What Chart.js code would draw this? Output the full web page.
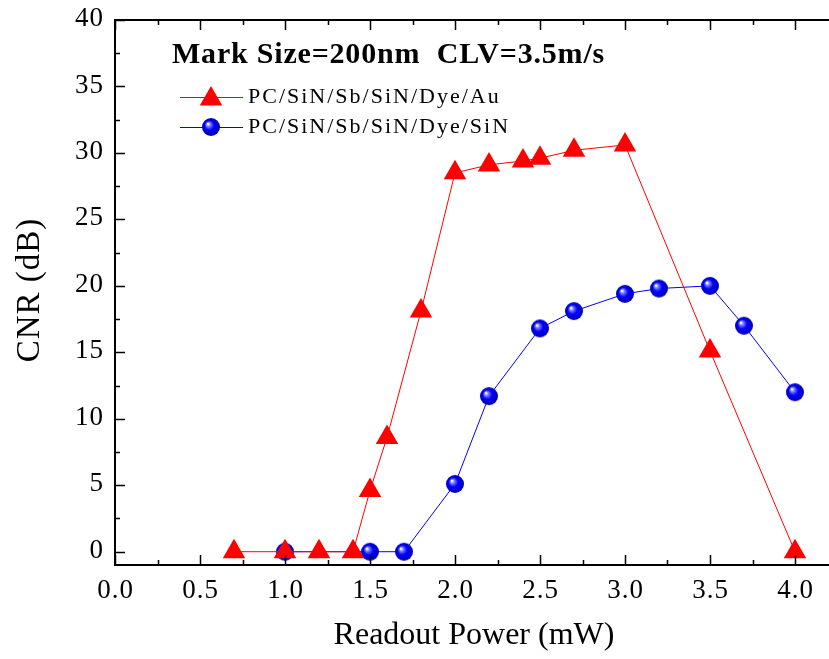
<!DOCTYPE html>
<html>
<head>
<meta charset="utf-8">
<script src="https://cdn.jsdelivr.net/npm/chart.js@4/dist/chart.umd.min.js"></script>
<style>
  html, body { margin: 0; padding: 0; background: #fff; }
  #wrap { width: 829px; height: 659px; }
</style>
</head>
<body>
<div id="wrap"><canvas id="cnr-chart" width="829" height="659"></canvas></div>
<script>
// readout power (mW) and CNR (dB)
var auPower = [0.7, 1.0, 1.2, 1.4, 1.5, 1.6, 1.8, 2.0, 2.2, 2.4, 2.5, 2.7, 3.0, 3.5, 4.0]
var auCnr   = [0, 0, 0, 0, 4.6, 8.6, 18.1, 28.5, 29.1, 29.4, 29.6, 30.2, 30.6, 15.1, 0]
var sinPower = [1.0, 1.5, 1.7, 2.0, 2.2, 2.5, 2.7, 3.0, 3.2, 3.5, 3.7, 4.0]
var sinCnr   = [0, 0, 0, 5.1, 11.7, 16.8, 18.1, 19.4, 19.8, 20.0, 17.0, 12.0]

var seriesNames = ['PC/SiN/Sb/SiN/Dye/Au', 'PC/SiN/Sb/SiN/Dye/SiN']
var chartTitle = 'Mark Size=200nm  CLV=3.5m/s'
var xTitle = 'Readout Power (mW)'
var yTitle = 'CNR (dB)'
var xTicks = [0.0, 0.5, 1.0, 1.5, 2.0, 2.5, 3.0, 3.5, 4.0]
var yTicks = [0, 5, 10, 15, 20, 25, 30, 35, 40]

var serif = '"Liberation Serif", "Times New Roman", serif'

var toPoints = function(xs, ys) {
  return xs.map(function(x, i) { return { x: x, y: ys[i] } })
}

// little blue ball used as marker
var makeBall = function(r) {
  var c = document.createElement('canvas')
  c.width = c.height = r * 2 + 2
  var g = c.getContext('2d')
  var cx = r + 1, cy = r + 1
  var grad = g.createRadialGradient(cx - r * 0.35, cy - r * 0.35, 0.5, cx, cy, r)
  grad.addColorStop(0, '#ffffff')
  grad.addColorStop(0.18, '#8080ff')
  grad.addColorStop(0.5, '#0000ff')
  grad.addColorStop(1, '#0000b0')
  g.fillStyle = grad
  g.beginPath()
  g.arc(cx, cy, r, 0, Math.PI * 2)
  g.fill()
  return c
}
var ball = makeBall(9)

var drawTriangle = function(ctx, x, y, r) {
  ctx.beginPath()
  for (var k = 0; k < 3; k++) {
    var a = -Math.PI / 2 + k * 2 * Math.PI / 3
    var px = x + Math.cos(a) * r, py = y + Math.sin(a) * r
    if (k === 0) ctx.moveTo(px, py); else ctx.lineTo(px, py)
  }
  ctx.closePath()
  ctx.fillStyle = '#ff0000'
  ctx.fill()
}

var framePlugin = {
  id: 'frame',
  afterDraw: function(chart) {
    var ctx = chart.ctx
    var a = chart.chartArea
    var xs = chart.scales.x, ys = chart.scales.y
    ctx.save()
    ctx.strokeStyle = '#000'
    ctx.lineWidth = 2
    // left, top and bottom axis lines (right side runs off the picture)
    ctx.beginPath()
    ctx.moveTo(a.right + 2, a.top); ctx.lineTo(a.left, a.top)
    ctx.lineTo(a.left, a.bottom); ctx.lineTo(a.right + 2, a.bottom)
    ctx.stroke()
    ctx.lineWidth = 1.5
    ctx.beginPath()
    // inward ticks, major and minor
    for (var v = 0; v <= 4.2001; v += 0.25) {
      var px = Math.round(xs.getPixelForValue(v)) + 0.5
      var len = (Math.abs(v * 2 - Math.round(v * 2)) < 1e-6) ? 10 : 5
      ctx.moveTo(px, a.bottom); ctx.lineTo(px, a.bottom - len)
      ctx.moveTo(px, a.top); ctx.lineTo(px, a.top + len)
    }
    for (var w = 0; w <= 40; w += 2.5) {
      var py = Math.round(ys.getPixelForValue(w)) + 0.5
      var l2 = (w % 5 === 0) ? 10 : 5
      ctx.moveTo(a.left, py); ctx.lineTo(a.left + l2, py)
    }
    ctx.stroke()

    // tick labels
    ctx.fillStyle = '#000'
    ctx.textBaseline = 'middle'
    ctx.font = '27px ' + serif
    ctx.letterSpacing = '1px'
    ctx.textAlign = 'center'
    xTicks.forEach(function(t) {
      ctx.fillText(t.toFixed(1), xs.getPixelForValue(t) + 0.5, a.bottom + 26)
    })
    ctx.textAlign = 'right'
    yTicks.forEach(function(t) {
      ctx.fillText(String(t), a.left - 11, ys.getPixelForValue(t) - 1)
    })

    // title inside plot
    ctx.textAlign = 'left'
    ctx.font = 'bold 30px ' + serif
    ctx.letterSpacing = '0.8px'
    ctx.fillText(chartTitle, 172, 55)

    // legend
    ctx.font = '22px ' + serif
    ctx.letterSpacing = '2px'
    var rows = [97, 127]
    ctx.lineWidth = 1
    ctx.strokeStyle = '#ff0000'
    ctx.beginPath(); ctx.moveTo(180, rows[0] + 0.5); ctx.lineTo(243, rows[0] + 0.5); ctx.stroke()
    drawTriangle(ctx, 211, rows[0] + 2, 13)
    ctx.strokeStyle = '#0000ff'
    ctx.beginPath(); ctx.moveTo(180, rows[1] + 0.5); ctx.lineTo(243, rows[1] + 0.5); ctx.stroke()
    ctx.drawImage(ball, 211 - ball.width / 2, rows[1] - ball.height / 2)
    ctx.fillStyle = '#000'
    ctx.fillText(seriesNames[0], 248, rows[0])
    ctx.fillText(seriesNames[1], 248, rows[1])

    // axis titles
    ctx.font = '32px ' + serif
    ctx.letterSpacing = '0px'
    ctx.textAlign = 'center'
    ctx.fillText(xTitle, 474, 636)
    ctx.font = '33px ' + serif
    ctx.letterSpacing = '1px'
    ctx.translate(30, 290)
    ctx.rotate(-Math.PI / 2)
    ctx.fillText(yTitle, 0, 0)
    ctx.restore()
  }
}

var context = document.getElementById('cnr-chart')
var chart = new Chart(context, {
  type: 'scatter',
  data: {
    datasets: [{
      label: seriesNames[0],
      data: toPoints(auPower, auCnr),
      showLine: true,
      borderColor: '#ff0000',
      borderWidth: 1,
      backgroundColor: '#ff0000',
      pointStyle: 'triangle',
      pointRadius: 13,
      pointBorderWidth: 0,
      pointHoverRadius: 13
    }, {
      label: seriesNames[1],
      data: toPoints(sinPower, sinCnr),
      showLine: true,
      borderColor: '#0000ff',
      borderWidth: 1,
      backgroundColor: '#0000ff',
      pointStyle: ball,
      pointRadius: 9,
      pointHoverRadius: 9
    }]
  },
  options: {
    responsive: false,
    animation: false,
    layout: { autoPadding: false, padding: { top: 20, right: 0, left: 0, bottom: 0 } },
    plugins: { legend: { display: false }, tooltip: { enabled: false } },
    scales: {
      x: {
        type: 'linear',
        min: 0,
        max: 4.2,
        grid: { display: false, drawTicks: false },
        border: { display: false },
        afterBuildTicks: function(s) { s.ticks = xTicks.map(function(v) { return { value: v } }) },
        afterFit: function(s) { s.height = 94 },
        ticks: { display: false }
      },
      y: {
        min: -1,
        max: 40,
        grid: { display: false, drawTicks: false },
        border: { display: false },
        afterBuildTicks: function(s) { s.ticks = yTicks.map(function(v) { return { value: v } }) },
        afterFit: function(s) { s.width = 115 },
        ticks: { display: false }
      }
    }
  },
  plugins: [framePlugin]
})
</script>
</body>
</html>
